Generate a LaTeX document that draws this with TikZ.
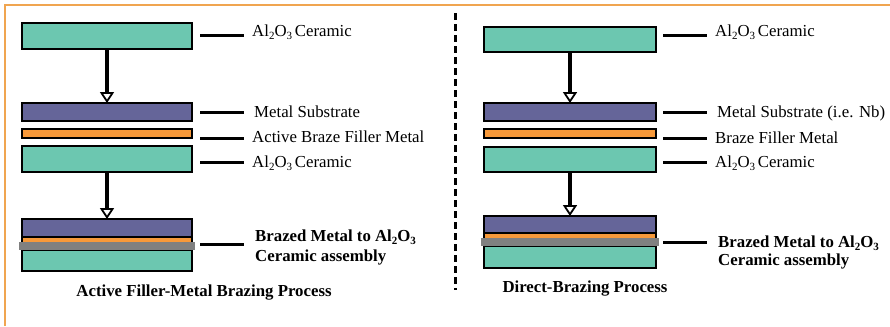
\documentclass[tikz,border=0pt]{standalone}
\usepackage{fontspec}
\setmainfont{Liberation Serif}
\usetikzlibrary{arrows.meta}
\definecolor{cercol}{RGB}{108,199,176}
\definecolor{metcol}{RGB}{101,101,153}
\definecolor{brzcol}{RGB}{247,153,58}
\definecolor{bandcol}{RGB}{128,128,128}
\definecolor{framecol}{RGB}{240,165,80}
\newcommand\lsub[1]{\raisebox{-0.22em}{\fontsize{11bp}{11bp}\selectfont #1}}
\newcommand\myAlO{Al\lsub{2}O\lsub{3}}
\tikzset{
  layer/.style={draw=black, line width=2bp, inner sep=0pt, outer sep=0pt},
  band/.style={fill=bandcol, draw=none, inner sep=0pt, outer sep=0pt, minimum height=8bp},
  flowarrow/.style={line width=3.5bp, -{Triangle[open, width=14bp, length=11bp, line width=1.8bp]}},
  lead/.style={line width=3bp},
  lbl/.style={anchor=base west, inner sep=0pt, font=\fontsize{16.8bp}{20bp}\selectfont},
  blbl/.style={lbl, font=\fontsize{16.8bp}{20bp}\selectfont\bfseries},
}
\begin{document}
\begin{tikzpicture}[x=1bp, y=-1bp]
\useasboundingbox (0,0) rectangle (890,326);
% frame
\coordinate (fa) at (5,326);
\coordinate (fb) at (5,5);
\coordinate (fc) at (890,5);
\draw[framecol, line width=1.5bp] (fa) -- (fb) -- (fc);
% separator
\coordinate (sa) at (455,13);
\coordinate (sb) at (455,290);
\draw[line width=3bp, dash pattern=on 7bp off 4bp] (sa) -- (sb);

% ===== left column =====
\node[layer, fill=cercol, minimum width=170bp, minimum height=26bp] (Lc1) at (107,36) {};
\node[layer, fill=metcol, minimum width=170bp, minimum height=18bp] (Lm1) at (107,112) {};
\node[layer, fill=brzcol, minimum width=170bp, minimum height=9bp] (Lo1) at (107,133.5) {};
\node[layer, fill=cercol, minimum width=170bp, minimum height=26bp] (Lc2) at (107,159) {};
% assembly
\node[layer, fill=cercol, minimum width=170bp, minimum height=21bp] (Lc3) at (107,260.5) {};
\node[layer, fill=brzcol, draw=none, minimum width=170bp, minimum height=6bp] (Lo2) at (107,240) {};
\node[layer, fill=metcol, minimum width=170bp, minimum height=18bp] (Lm2) at (107,228) {};
\draw[line width=2bp] (Lm2.north west) rectangle (Lc3.south east);
\node[band, minimum width=176bp] (Lg) at (107,246) {};
\draw[flowarrow] (Lc1.south) -- (Lm1.north);
\draw[flowarrow] (Lc2.south) -- (Lm2.north);
% leads
\coordinate (La1) at (200,35.5); \coordinate (Lb1) at (244,35.5);
\coordinate (La2) at (200,112); \coordinate (Lb2) at (244,112);
\coordinate (La3) at (200,138); \coordinate (Lb3) at (244,138);
\coordinate (La4) at (200,162.5); \coordinate (Lb4) at (244,162.5);
\coordinate (La5) at (200,244); \coordinate (Lb5) at (244,244);
\draw[lead] (La1) -- (Lb1);
\draw[lead] (La2) -- (Lb2);
\draw[lead] (La3) -- (Lb3);
\draw[lead] (La4) -- (Lb4);
\draw[lead] (La5) -- (Lb5);
\node[lbl] (Lt1) at (252,36) {\myAlO\,Ceramic};
\node[lbl] (Lt2) at (254,117) {Metal Substrate};
\node[lbl] (Lt3) at (252,142) {Active Braze Filler Metal};
\node[lbl] (Lt4) at (252,167) {\myAlO\,Ceramic};
\node[blbl] (Lt5) at (255,241) {Brazed Metal to \myAlO};
\node[blbl] (Lt6) at (255,261) {Ceramic assembly};
\node[blbl, anchor=base] (Lcap) at (204,296) {Active Filler-Metal Brazing Process};

% ===== right column =====
\node[layer, fill=cercol, minimum width=172bp, minimum height=25bp] (Rc1) at (570,39.5) {};
\node[layer, fill=metcol, minimum width=172bp, minimum height=18bp] (Rm1) at (570,112) {};
\node[layer, fill=brzcol, minimum width=172bp, minimum height=9bp] (Ro1) at (570,133.5) {};
\node[layer, fill=cercol, minimum width=172bp, minimum height=25bp] (Rc2) at (570,159.5) {};
% assembly
\node[layer, fill=cercol, minimum width=172bp, minimum height=22bp] (Rc3) at (570,257) {};
\node[layer, fill=brzcol, draw=none, minimum width=172bp, minimum height=6bp] (Ro2) at (570,236) {};
\node[layer, fill=metcol, minimum width=172bp, minimum height=17bp] (Rm2) at (570,224.5) {};
\draw[line width=2bp] (Rm2.north west) rectangle (Rc3.south east);
\node[band, minimum width=178bp] (Rg) at (570,242) {};
\draw[flowarrow] (Rc1.south) -- (Rm1.north);
\draw[flowarrow] (Rc2.south) -- (Rm2.north);
% leads
\coordinate (Ra1) at (663,35.5); \coordinate (Rb1) at (707,35.5);
\coordinate (Ra2) at (663,112.5); \coordinate (Rb2) at (707,112.5);
\coordinate (Ra3) at (663,138); \coordinate (Rb3) at (707,138);
\coordinate (Ra4) at (663,162.5); \coordinate (Rb4) at (707,162.5);
\coordinate (Ra5) at (663,242); \coordinate (Rb5) at (707,242);
\draw[lead] (Ra1) -- (Rb1);
\draw[lead] (Ra2) -- (Rb2);
\draw[lead] (Ra3) -- (Rb3);
\draw[lead] (Ra4) -- (Rb4);
\draw[lead] (Ra5) -- (Rb5);
\node[lbl] (Rt1) at (715,36) {\myAlO\,Ceramic};
\node[lbl] (Rt2) at (717,117) {Metal Substrate (i.e. Nb)};
\node[lbl] (Rt3) at (715,143) {Braze Filler Metal};
\node[lbl] (Rt4) at (715,167) {\myAlO\,Ceramic};
\node[blbl] (Rt5) at (718,247) {Brazed Metal to \myAlO};
\node[blbl] (Rt6) at (718,265) {Ceramic assembly};
\node[blbl, anchor=base] (Rcap) at (585,292) {Direct-Brazing Process};
\end{tikzpicture}
\end{document}
